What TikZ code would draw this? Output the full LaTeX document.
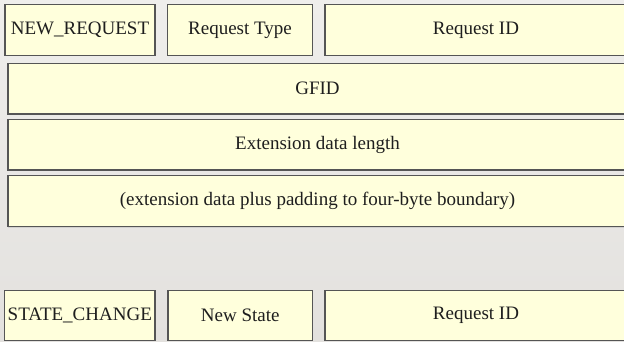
\documentclass[tikz,border=0pt]{standalone}
\usepackage{fontspec}
\setmainfont{Liberation Serif}
\usetikzlibrary{shadows}
\definecolor{bgtop}{HTML}{EFEEEC}
\definecolor{bgbot}{HTML}{E3E1DE}
\definecolor{boxfill}{HTML}{FFFFDC}
\definecolor{boxline}{HTML}{555555}
\definecolor{txt}{HTML}{1E1E1E}
\begin{document}
\begin{tikzpicture}[x=1pt,y=-1pt,
  field/.style={rectangle, draw=boxline, line width=1.3pt, fill=boxfill, text=txt,
    font=\fontsize{19}{21}\selectfont, inner sep=0pt,
    drop shadow={opacity=0.2, shadow xshift=0.3pt, shadow yshift=-1pt}}]
\useasboundingbox (0,0) rectangle (624,341);
\clip (0,0) rectangle (624,341);
\shade[top color=bgtop, bottom color=bgbot] (0,0) rectangle (624,341);
% first message
\node[field, minimum width=150pt, minimum height=50.6pt] (newreq) at (80,30) {NEW\_REQUEST};
\node[field, minimum width=145pt, minimum height=50.6pt] (reqtype) at (240,30) {Request Type};
\node[field, minimum width=302pt, minimum height=50.6pt] (reqid) at (476,30) {Request ID};
\node[field, minimum width=619pt, minimum height=50.7pt] (gfid) at (317.5,88.7) {GFID};
\node[field, minimum width=619pt, minimum height=50.5pt] (extlen) at (317.5,144.8) {Extension data length};
\node[field, minimum width=619pt, minimum height=51pt] (extdata) at (317.5,201) {(extension data plus padding to four-byte boundary)};
% second message
\node[field, minimum width=150.5pt, minimum height=50pt] (statechg) at (79.8,315.3) {STATE\_CHANGE};
\node[field, minimum width=144.5pt, minimum height=50pt] (newstate) at (240.3,315.3) {New State};
\node[field, minimum width=302pt, minimum height=50pt] (reqid2) at (476,315.3) {Request ID};
\end{tikzpicture}
\end{document}
